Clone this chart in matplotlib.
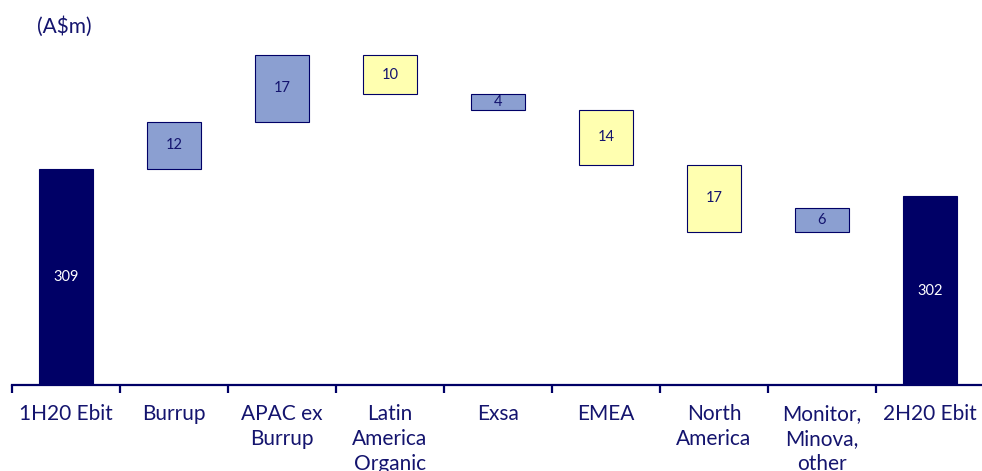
import matplotlib
matplotlib.use("Agg")
import matplotlib.pyplot as plt

# EBIT bridge, half-year to half-year (A$m)
categories = ["1H20 Ebit", "Burrup", "APAC ex\nBurrup", "Latin\nAmerica\nOrganic",
              "Exsa", "EMEA", "North\nAmerica", "Monitor,\nMinova,\nother", "2H20 Ebit"]
start_value = 309
end_value = 302
# signed movements between the two totals
movements = [12, 17, -10, -4, -14, -17, 6]
movement_colors = ["#8B9FD1", "#8B9FD1", "#FFFFB0", "#8B9FD1", "#FFFFB0", "#FFFFB0", "#8B9FD1"]

navy = "#000066"
text_navy = "#14146E"

plt.rcParams["font.family"] = ["Lato", "DejaVu Sans"]

fig = plt.figure(figsize=(9.82, 4.71), dpi=100)
ax = fig.add_axes([12 / 982, (471 - 385) / 471, 972 / 982, 345 / 471])

bar_w = 0.5
# opening total
ax.bar(0, start_value, width=bar_w, color=navy, edgecolor=navy, linewidth=0.8)
ax.text(0, (start_value + 254) / 2, str(start_value), ha="center", va="center",
        color="white", fontsize=10.5)

level = start_value
for i, (mv, col) in enumerate(zip(movements, movement_colors), start=1):
    lo = level if mv > 0 else level + mv
    ax.bar(i, abs(mv), bottom=lo, width=bar_w, color=col, edgecolor=navy, linewidth=0.8)
    ax.text(i, lo + abs(mv) / 2, str(abs(mv)), ha="center", va="center",
            color=text_navy, fontsize=10.5)
    level += mv

# closing total
n = len(categories) - 1
ax.bar(n, end_value, width=bar_w, color=navy, edgecolor=navy, linewidth=0.8)
ax.text(n, (end_value + 254) / 2, str(end_value), ha="center", va="center",
        color="white", fontsize=10.5)

ax.set_ylim(254, 341.8)
ax.set_xlim(-0.5, len(categories) - 0.5)

for s in ["top", "left", "right"]:
    ax.spines[s].set_visible(False)
ax.spines["bottom"].set_color(navy)
ax.spines["bottom"].set_linewidth(1.6)
ax.set_yticks([])

ax.set_xticks(range(len(categories)))
ax.set_xticklabels(categories, fontsize=15, color=text_navy, linespacing=1.3)
ax.set_xticks([k - 0.5 for k in range(len(categories) + 1)], minor=True)
ax.tick_params(axis="x", which="major", length=0, pad=14)
ax.tick_params(axis="x", which="minor", length=6, width=1.6, color=navy, direction="out")

fig.text(37 / 982, 1 - 27 / 471, "(A$m)", fontsize=15, color=text_navy,
         ha="left", va="center")

fig.savefig("out.png", dpi=100)
